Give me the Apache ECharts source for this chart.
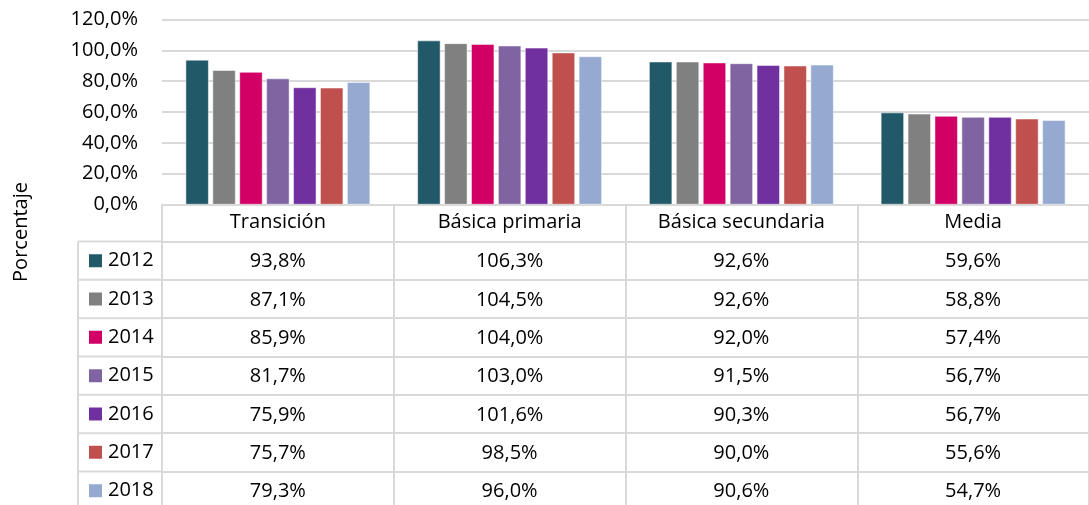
<!DOCTYPE html>
<html>
<head>
<meta charset="utf-8">
<script src="https://cdn.jsdelivr.net/npm/echarts@6/dist/echarts.min.js"></script>
<style>html,body{margin:0;padding:0;background:#fff}#c{width:1089px;height:505px}</style>
</head>
<body>
<div id="c"></div>
<script>
const categories = ['Transición', 'Básica primaria', 'Básica secundaria', 'Media'];
const years = ['2012', '2013', '2014', '2015', '2016', '2017', '2018'];
const colors = ['#215968', '#808080', '#D20065', '#8064A2', '#7030A0', '#C0504D', '#95A9D1'];
const v2012 = [93.8, 106.3, 92.6, 59.6];
const v2013 = [87.1, 104.5, 92.6, 58.8];
const v2014 = [85.9, 104.0, 92.0, 57.4];
const v2015 = [81.7, 103.0, 91.5, 56.7];
const v2016 = [75.9, 101.6, 90.3, 56.7];
const v2017 = [75.7, 98.5, 90.0, 55.6];
const v2018 = [79.3, 96.0, 90.6, 54.7];
const rows = [v2012, v2013, v2014, v2015, v2016, v2017, v2018];
const yTicks = [0, 20, 40, 60, 80, 100, 120];

const FONT = 'Open Sans';
const FS = 20;
const GRAY = '#d9d9d9';
const fmt = v => v.toFixed(1).replace('.', ',') + '%';

const gridLeft = 162, gridTop = 19.5, gridHeight = 185, gridWidth = 940;
const headerH = 37, rowH = 38.33;
const baseY = gridTop + gridHeight;

const xAxes = [{
  type: 'category', data: categories, position: 'bottom', offset: 0,
  axisLine: {show: true, lineStyle: {color: GRAY, width: 2}},
  axisTick: {show: true, length: headerH, lineStyle: {color: GRAY, width: 2}},
  axisLabel: {color: '#000', fontFamily: FONT, fontSize: FS, margin: 8}
}];
rows.forEach((r, i) => {
  xAxes.push({
    type: 'category', data: categories, position: 'bottom', offset: headerH + i * rowH,
    axisLine: {show: true, lineStyle: {color: GRAY, width: 2}},
    axisTick: {show: true, length: rowH, lineStyle: {color: GRAY, width: 2}},
    axisLabel: {color: '#000', fontFamily: FONT, fontSize: FS, margin: 10,
      formatter: (val, idx) => fmt(r[idx])}
  });
});

const graphics = [];
const colLeft = 78;
for (let i = 0; i <= rows.length; i++) {
  const y = baseY + headerH + i * rowH;
  graphics.push({type: 'line', shape: {x1: colLeft, y1: y, x2: gridLeft, y2: y},
    style: {stroke: GRAY, lineWidth: 2}});
}
graphics.push({type: 'line', shape: {x1: colLeft, y1: baseY + headerH, x2: colLeft, y2: baseY + headerH + rows.length * rowH},
  style: {stroke: GRAY, lineWidth: 2}});
graphics.push({type: 'text', x: 21, y: 232, rotation: Math.PI / 2,
  style: {text: 'Porcentaje', font: '20px "' + FONT + '"', fill: '#000', align: 'center', verticalAlign: 'middle'}});

const chart = echarts.init(document.getElementById('c'), null, {renderer: 'canvas'});
chart.setOption({
  animation: false,
  color: colors,
  grid: {left: gridLeft, top: gridTop, width: gridWidth, height: gridHeight, containLabel: false},
  legend: {
    orient: 'vertical', left: 87, top: baseY + headerH + (rowH - 20) / 2,
    width: 80, height: 320, padding: 0,
    itemWidth: 15, itemHeight: 15, itemGap: rowH - 20,
    icon: 'rect', data: years, selectedMode: false,
    textStyle: {fontFamily: FONT, fontSize: FS, color: '#000', lineHeight: 20}
  },
  xAxis: xAxes,
  yAxis: {
    type: 'value', min: 0, max: 120, interval: 20,
    axisLine: {show: false}, axisTick: {show: false},
    splitLine: {lineStyle: {color: GRAY, width: 2}},
    axisLabel: {color: '#000', fontFamily: FONT, fontSize: FS, margin: 24,
      formatter: v => yTicks.includes(v) ? fmt(v) : ''}
  },
  series: rows.map((r, i) => ({
    name: years[i], type: 'bar', xAxisIndex: 0, data: r,
    barWidth: 23, barGap: '17%',
    itemStyle: {color: colors[i], borderColor: '#ffffff', borderWidth: 0.5}
  })),
  graphic: graphics
});
</script>
</body>
</html>
